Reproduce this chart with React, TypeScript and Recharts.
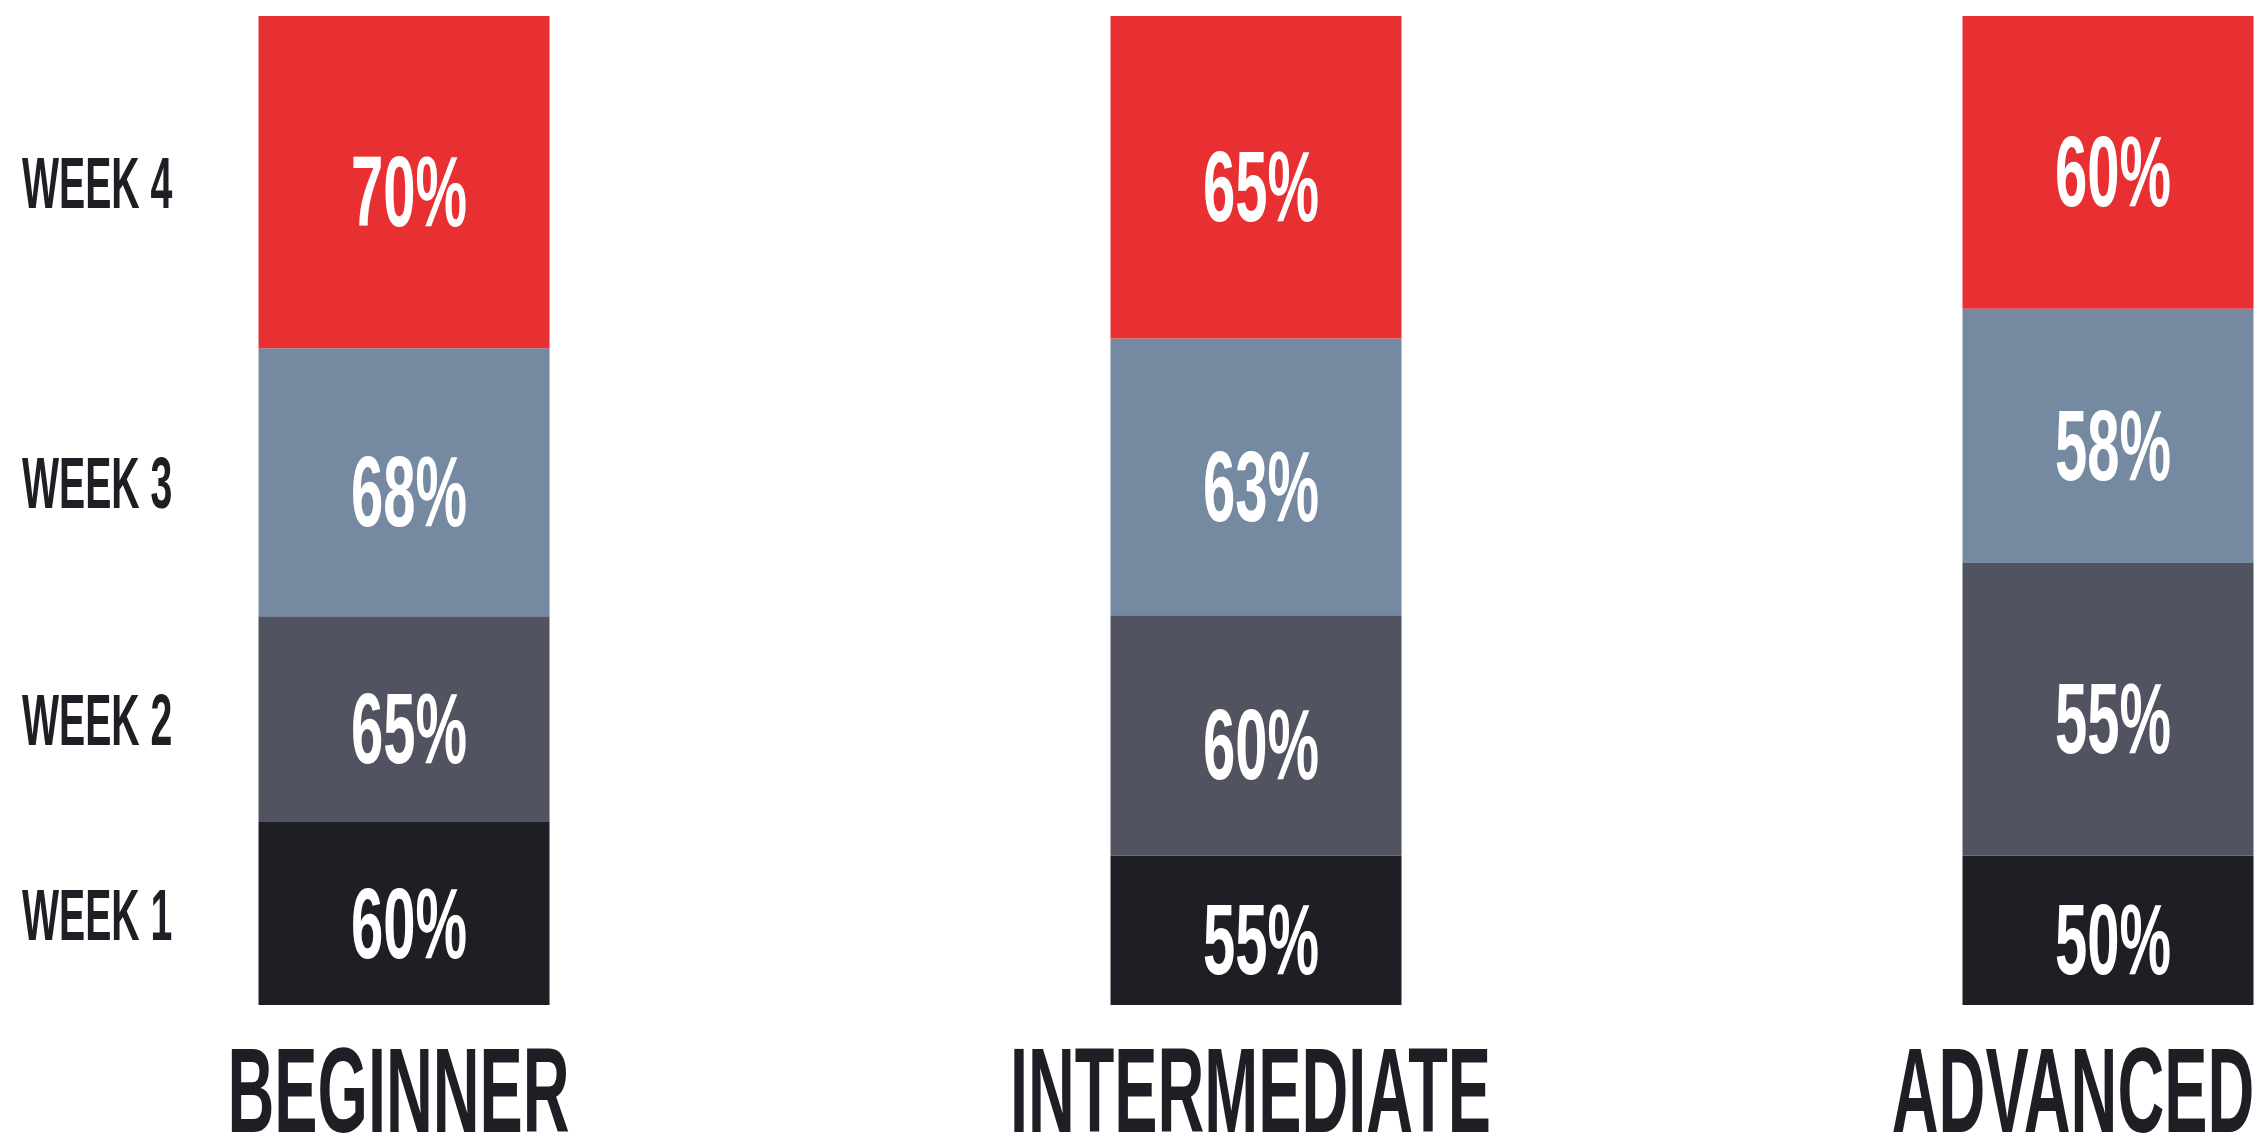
import React from 'react';
import { BarChart, Bar, XAxis, YAxis, LabelList } from 'recharts';

// column order
const levels = ['BEGINNER', 'INTERMEDIATE', 'ADVANCED'];
const weekNames = ['WEEK 1', 'WEEK 2', 'WEEK 3', 'WEEK 4'];

// share of the column height each week takes (as drawn)
const week1Share = [18.5, 15.1, 15.1];
const week2Share = [20.8, 24.3, 29.6];
const week3Share = [27.1, 28.0, 25.7];
const week4Share = [33.6, 32.6, 29.6];

// printed percentages
const week1Pct = [60, 55, 50];
const week2Pct = [65, 60, 55];
const week3Pct = [68, 63, 58];
const week4Pct = [70, 65, 60];

const shares = [week1Share, week2Share, week3Share, week4Share];
const pcts = [week1Pct, week2Pct, week3Pct, week4Pct];
const colors = ['#1e1f24', '#515360', '#758aa0', '#e83032'];

const data = levels.map((name, i) => {
  const row: Record<string, any> = { pos: i, name };
  shares.forEach((s, w) => {
    row[`w${w + 1}`] = s[i];
    row[`p${w + 1}`] = pcts[w][i];
  });
  return row;
});

const W = 2265;
const H = 1137;
const FONT = '"Liberation Sans", Arial, sans-serif';
const INK = '#1e1f24';

const box = (props: any) => {
  const vb = props.viewBox || props;
  return { x: Number(vb.x), y: Number(vb.y), width: Number(vb.width), height: Number(vb.height) };
};

const PctLabel = (props: any) => {
  const { x, y, width, height } = box(props);
  const cx = x + width / 2 + 5;
  const base = y + height / 2 + 44;
  return (
    <text
      transform={`translate(${cx},${base}) scale(0.58,1)`}
      textAnchor="middle"
      fill="#ffffff"
      fontFamily={FONT}
      fontWeight={700}
      fontSize={100}
    >
      {props.value}%
    </text>
  );
};

// week names sit to the left of the first column, level with its segments
const weekLabel = (name: string) => (props: any) => {
  if (props.value !== levels[0]) return <g />;
  const { y, height } = box(props);
  const base = y + height / 2 + 26;
  return (
    <text
      transform={`translate(22,${base}) scale(0.545,1)`}
      textAnchor="start"
      fill={INK}
      fontFamily={FONT}
      fontWeight={700}
      fontSize={72}
    >
      {name}
    </text>
  );
};

const LevelTick = (props: any) => {
  const { x, payload } = props;
  const label = levels[payload.value] ?? '';
  // keep the last name inside the picture
  const half = label.length * 23.5;
  const cx = Math.min(x - 6, W - 4 - half);
  return (
    <text
      transform={`translate(${cx},${H - 5}) scale(0.54,1)`}
      textAnchor="middle"
      fill={INK}
      fontFamily={FONT}
      fontWeight={700}
      fontSize={120}
    >
      {label}
    </text>
  );
};

export default function App() {
  return (
    <div style={{ position: 'absolute', left: 0, top: 0, width: W, height: H, background: '#ffffff' }}>
      <BarChart width={W} height={H} data={data} margin={{ top: 16, right: 0, bottom: 0, left: 0 }}>
        <XAxis
          type="number"
          dataKey="pos"
          domain={[-0.4748, 2.1837]}
          ticks={[0, 1, 2]}
          interval={0}
          allowDataOverflow
          axisLine={false}
          tickLine={false}
          height={132}
          tick={<LevelTick />}
        />
        <YAxis hide domain={[0, 100]} />
        {weekNames.map((name, w) => (
          <Bar
            key={name}
            dataKey={`w${w + 1}`}
            stackId="a"
            fill={colors[w]}
            barSize={291}
            isAnimationActive={false}
          >
            <LabelList dataKey={`p${w + 1}`} content={PctLabel} />
            <LabelList dataKey="name" content={weekLabel(name)} />
          </Bar>
        ))}
      </BarChart>
    </div>
  );
}
